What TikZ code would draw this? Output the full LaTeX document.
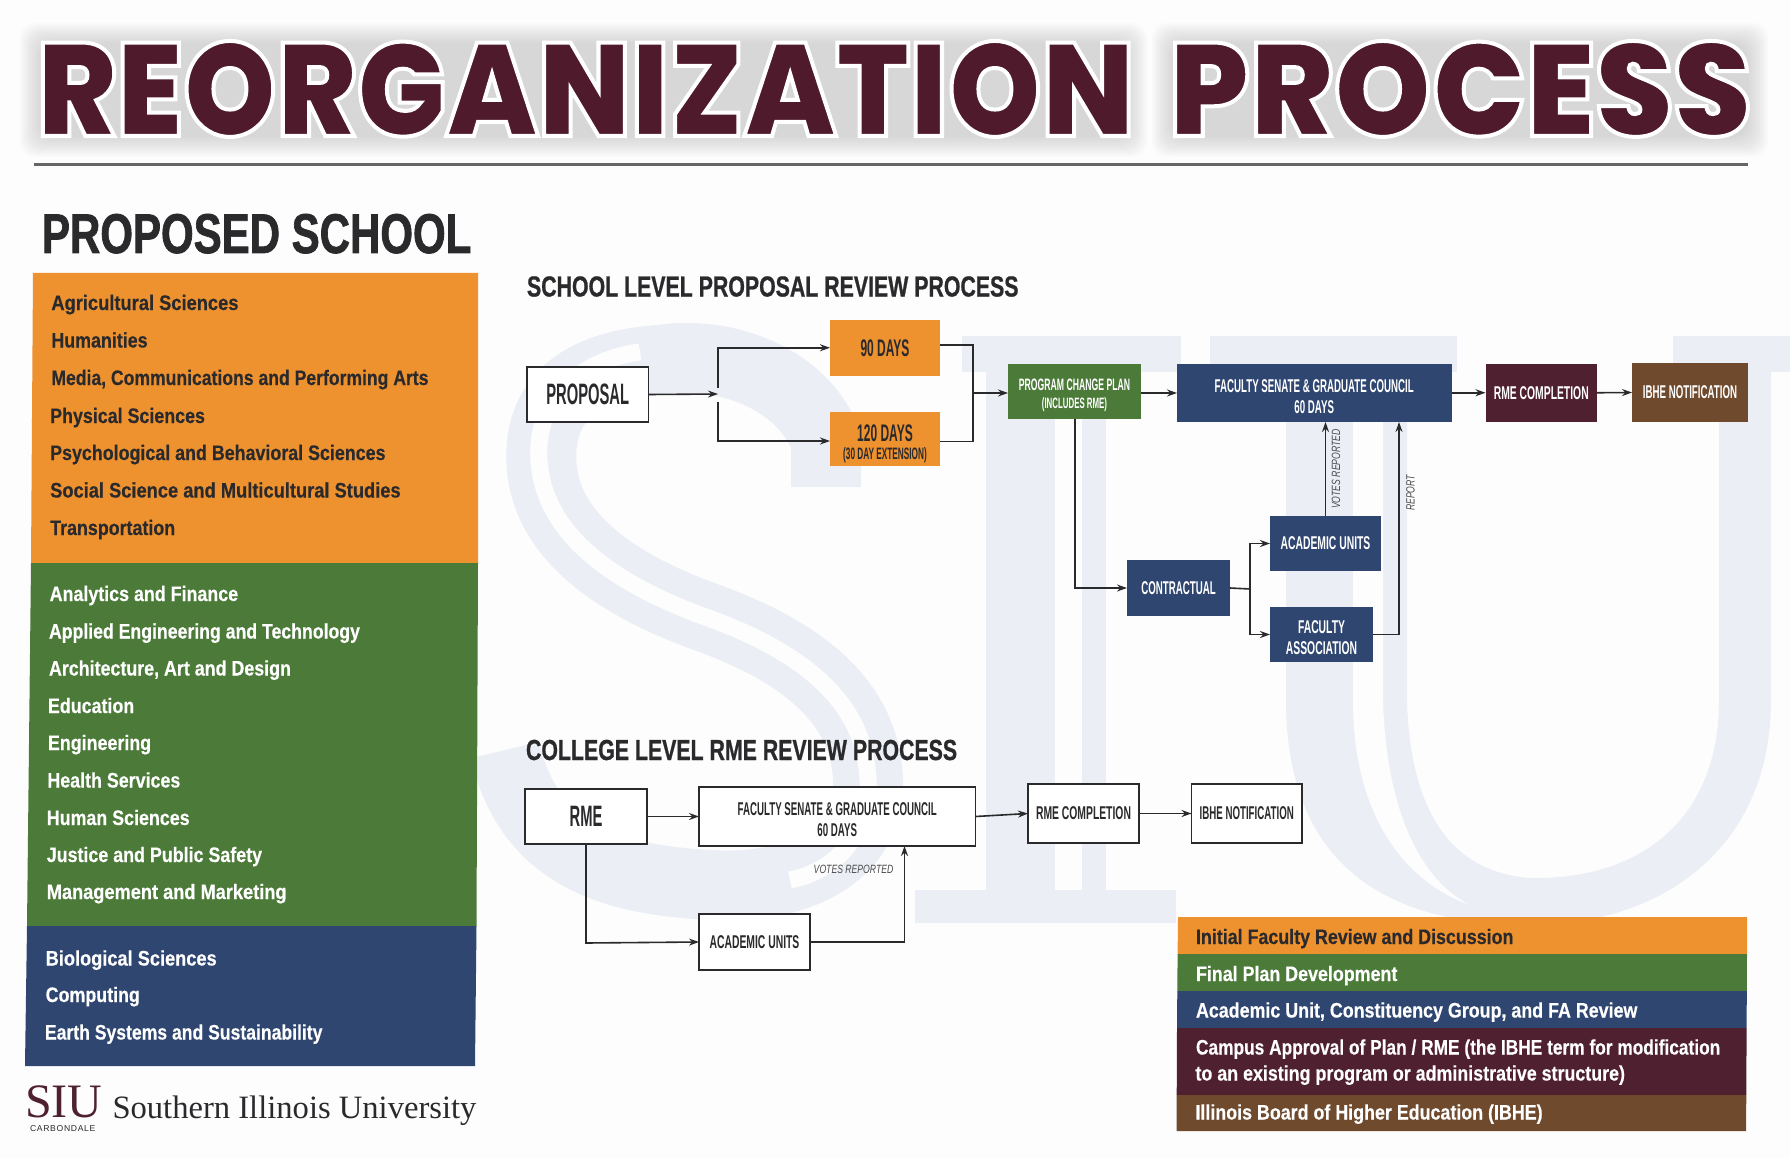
\documentclass[tikz,border=0pt]{standalone}
\usepackage{fontspec}
\usetikzlibrary{arrows.meta,calc}
\setmainfont{Liberation Sans}
\newfontfamily\fnb[FakeStretch=.5]{Liberation Sans}[UprightFont=* Bold]
\newfontfamily\fnr[FakeStretch=.56]{Liberation Sans}[UprightFont=* Bold]
\newfontfamily\fnx[FakeStretch=.525]{Liberation Sans}[UprightFont=* Bold]
\newfontfamily\flist[FakeStretch=.85,FakeBold=.35]{Liberation Sans}[UprightFont=* Bold]
\newfontfamily\fhead[FakeStretch=.735,FakeBold=.7]{Liberation Sans}[UprightFont=* Bold]
\newfontfamily\fbig[FakeStretch=.75,FakeBold=1.2]{Liberation Sans}[UprightFont=* Bold]
\newfontfamily\fnote[FakeStretch=.72]{Liberation Sans}[UprightFont=* Italic]
\newfontfamily\fcarb[LetterSpace=8]{Liberation Sans}
\newfontfamily\fser{Liberation Serif}
\newfontfamily\ftitlea[FakeStretch=.902]{Poppins}[UprightFont=* Black]
\newfontfamily\ftitleb[FakeStretch=.946]{Poppins}[UprightFont=* Black]
\definecolor{cor}{HTML}{EE912F}
\definecolor{cgr}{HTML}{4C7B39}
\definecolor{cbl}{HTML}{2F4670}
\definecolor{cma}{HTML}{4F2030}
\definecolor{cbr}{HTML}{6F4A2D}
\definecolor{ctt}{HTML}{4E1A2C}
\definecolor{cink}{HTML}{2A2A2C}
\definecolor{cwm}{HTML}{EBEFF5}
\definecolor{cbg}{HTML}{FDFDFE}
\tikzset{
 every node/.style={inner sep=0pt,outer sep=0pt},
 ln/.style={draw=cink,line width=1.6pt},
 ar/.style={ln,-{Stealth[length=10pt,width=7pt]}},
 wb/.style={draw=cink,line width=1.6pt,fill=white,text=cink,align=center},
 orb/.style={fill=cor,text=cink,align=center},
 grb/.style={fill=cgr,text=white,align=center},
 blb/.style={fill=cbl,text=white,align=center},
 mab/.style={fill=cma,text=white,align=center},
 brb/.style={fill=cbr,text=white,align=center},
 lsd/.style={anchor=base west,text=cink,font=\flist\fontsize{21}{24}\selectfont},
 lsw/.style={anchor=base west,text=white,font=\flist\fontsize{21}{24}\selectfont},
 note/.style={text=cink!85,font=\fnote\fontsize{12}{14}\selectfont},
 wmk/.style={draw=cwm,line width=70pt,line cap=butt},
 wmi/.style={draw=cbg,line width=17pt,line cap=butt},
}
% \bx{name}{x1}{y1}{x2}{y2}{style}{text}
\newcommand\bx[7]{%
 \pgfmathsetmacro\bxw{#4-#2}\pgfmathsetmacro\bxh{#5-#3}%
 \pgfmathsetmacro\bxx{(#2+#4)/2}\pgfmathsetmacro\bxy{(#3+#5)/2}%
 \node[#6,minimum width=\bxw pt,minimum height=\bxh pt] (#1) at (\bxx,\bxy) {#7};}
\newcommand\sz[2]{\fontsize{#1}{#2}\selectfont}
\begin{document}
\begin{tikzpicture}[x=1pt,y=-1pt]
\useasboundingbox (0,0) rectangle (1790,1158);
\fill[cbg] (0,0) rectangle (1790,1158);
% watermark
\draw[wmk] (826,487) -- (826,440) .. controls (800,375) and (720,350) .. (660,360) .. controls (580,365) and (535,400) .. (542,470) .. controls (550,540) and (620,585) .. (700,615) .. controls (800,650) and (865,700) .. (868,780) .. controls (870,860) and (790,890) .. (710,885) .. controls (620,880) and (530,860) .. (505,750);
\draw[wmi] (640,352) .. controls (580,360) and (530,400) .. (540,470) .. controls (550,540) and (620,585) .. (700,615) .. controls (800,650) and (865,700) .. (868,780) .. controls (870,830) and (840,870) .. (790,880);
\fill[cwm] (962,336) rectangle (1181,372);
\fill[cwm] (986,336) rectangle (1106,923);
\fill[cwm] (915,890) -- (1176,890) -- (1176,923) -- (915,923) -- cycle;
\fill[cbg] (1055,372) rectangle (1082,890);
\fill[cwm] (1210,336) rectangle (1457,372);
\fill[cwm] (1673,336) rectangle (1790,372);
\fill[cwm] (1286,336) -- (1407,336) -- (1407,700) .. controls (1410,810) and (1450,872) .. (1530,878) .. controls (1640,880) and (1719,820) .. (1719,700) -- (1719,336) -- (1771,336) -- (1771,700) .. controls (1771,850) and (1660,925) .. (1530,925) .. controls (1380,925) and (1286,860) .. (1286,700) -- cycle;
\fill[cbg] (1353,372) -- (1383,372) -- (1383,700) .. controls (1386,810) and (1420,880) .. (1470,905) .. controls (1400,880) and (1353,810) .. (1353,700) -- cycle;
% title glow
\foreach \xa/\xb in {40/1127,1172/1748}{
 \foreach \d in {0,2,...,20}{
  \fill[black!45,opacity=.03,rounded corners=16pt] (\xa-\d,43-\d) rectangle (\xb+\d,137+\d);
 }
}
% title
\node[anchor=base west,text=ctt] (title) at (37,136) {\sz{132}{134}\special{pdf:code 2 Tr 4 w 1 1 1 RG}\ftitlea REORGANIZATION\hspace{14pt} \ftitleb PROCESS\special{pdf:code 0 Tr}};
\draw[draw=black!60,line width=3pt] (34,165) -- (1748,165);
\node[anchor=base west,text=cink] (propschool) at (42,253) {\fbig\sz{56}{60}PROPOSED SCHOOL};
% left panel
\fill[cor] (33,273) -- (478,273) -- (478,563) -- (31,563) -- cycle;
\fill[cgr] (31,563) -- (478,563) -- (476.5,926) -- (27,926) -- cycle;
\fill[cbl] (27,926) -- (476.5,926) -- (475,1066) -- (25,1066) -- cycle;
\node[lsd,xscale=1.025] (o1) at (51.4,310) {Agricultural Sciences};
\node[lsd] (o2) at (51.4,347.5) {Humanities};
\node[lsd,xscale=.985] (o3) at (51.4,385) {Media, Communications and Performing Arts};
\node[lsd] (o4) at (50.2,423) {Physical Sciences};
\node[lsd] (o5) at (50.2,460) {Psychological and Behavioral Sciences};
\node[lsd,xscale=1.024] (o6) at (50.2,497.5) {Social Science and Multicultural Studies};
\node[lsd] (o7) at (50.2,535) {Transportation};
\node[lsw] (g1) at (49.7,601) {Analytics and Finance};
\node[lsw,xscale=.99] (g2) at (49,638.5) {Applied Engineering and Technology};
\node[lsw] (g3) at (49,675.5) {Architecture, Art and Design};
\node[lsw] (g4) at (48,713) {Education};
\node[lsw] (g5) at (48,750) {Engineering};
\node[lsw] (g6) at (47.4,787.5) {Health Services};
\node[lsw] (g7) at (46.8,825) {Human Sciences};
\node[lsw] (g8) at (46.8,862) {Justice and Public Safety};
\node[lsw,xscale=1.02] (g9) at (46.8,899) {Management and Marketing};
\node[lsw,xscale=1.02] (b1) at (45.7,965.5) {Biological Sciences};
\node[lsw] (b2) at (45.7,1002) {Computing};
\node[lsw,xscale=.985] (b3) at (45,1039.5) {Earth Systems and Sustainability};
% logo
\node[anchor=base west,text=cma] (siu) at (25,1117) {\fser\sz{48}{50}SIU};
\node[anchor=base west,text=cink] (carb) at (30,1131) {\fcarb\sz{8.6}{10}CARBONDALE};
\node[anchor=base west,text=cink] (suni) at (112.5,1118) {\fser\sz{32.6}{34}Southern Illinois University};
% school level
\node[anchor=base west,text=cink] (h1) at (527,296.5) {\fhead\sz{29}{30}SCHOOL LEVEL PROPOSAL REVIEW PROCESS};
\bx{prop}{527}{367}{648.5}{422}{wb}{\fnb\sz{29.5}{30}PROPOSAL}
\bx{d90}{830}{320}{940}{375.5}{orb}{\fnb\sz{24}{26}90 DAYS}
\bx{d120}{830}{412}{940}{466}{orb}{\rule{0pt}{26pt}\fnb\sz{24}{20}120 DAYS\\[5pt]\fnb\sz{16.5}{20}(30 DAY EXTENSION)}
\bx{pcp}{1008}{364}{1141}{419}{grb}{\rule{0pt}{20pt}\fnx\sz{16.5}{19}PROGRAM CHANGE PLAN\\[6pt]\fnx\sz{15}{19}(INCLUDES RME)}
\bx{fs}{1177}{364}{1451.5}{422}{blb}{\rule{0pt}{21pt}\fnx\sz{18.5}{21}FACULTY SENATE \& GRADUATE COUNCIL\\[7pt]\fnx\sz{18.5}{21}60 DAYS}
\bx{rc}{1485.5}{363.5}{1597}{422}{mab}{\fnr\sz{18.5}{21}RME COMPLETION}
\bx{ib}{1632}{363}{1748}{422}{brb}{\fnx\sz{18.5}{21}IBHE NOTIFICATION}
\bx{con}{1127}{560}{1230}{616}{blb}{\fnx\sz{18.5}{21}CONTRACTUAL}
\bx{au}{1270}{516}{1381}{571}{blb}{\fnr\sz{18.5}{21}ACADEMIC UNITS}
\bx{fa}{1270}{607}{1373}{662}{blb}{\rule{0pt}{19pt}\fnr\sz{18.5}{21.5}FACULTY\\[7.5pt]\fnr\sz{18.5}{21.5}ASSOCIATION}
\coordinate (j1) at (718,394);
\coordinate (j1a) at (718,388);
\coordinate (j1b) at (718,402);
\coordinate (j2) at (973,393);
\coordinate (j3) at (1250,589);
\coordinate (j4) at (1075,588);
\coordinate (j5) at (1399,422);
\draw[ar] (prop.east) -- (j1);
\draw[ar] (j1a) |- (d90.west);
\draw[ar] (j1b) |- ([yshift=-2pt]d120.west);
\draw[ln] ([yshift=3pt]d90.east) -| (j2);
\draw[ln] ([yshift=-2.5pt]d120.east) -| (j2);
\draw[ar] (j2) -- (j2 -| pcp.west);
\draw[ar] (pcp.east |- fs.west) -- (fs.west);
\draw[ar] (fs.east |- rc.west) -- (rc.west);
\draw[ar] (rc.east) -- (ib.west);
\draw[ar] (j4 |- pcp.south) -- (j4) -- (con.west);
\draw[ln] (con.east) -- (j3);
\draw[ar] (j3) |- (au.west);
\draw[ar] (j3) |- (fa.west);
\draw[ar] (au.north) -- (au.north |- fs.south);
\draw[ar] (fa.east) -| (j5);
\node[note,rotate=90] (vr1) at (1336,469) {VOTES REPORTED};
\node[note,rotate=90] (rp1) at (1410.5,493) {REPORT};
% college level
\node[anchor=base west,text=cink] (h2) at (526,760) {\fhead\sz{29}{30}COLLEGE LEVEL RME REVIEW PROCESS};
\bx{rme}{525}{789}{647}{844}{wb}{\fnb\sz{29.5}{30}RME}
\bx{fs2}{699}{787}{975.5}{846}{wb}{\rule{0pt}{19pt}\fnx\sz{18.5}{21}FACULTY SENATE \& GRADUATE COUNCIL\\[7pt]\fnx\sz{18.5}{21}60 DAYS}
\bx{rc2}{1028}{784}{1139}{843}{wb}{\fnr\sz{18.5}{21}RME COMPLETION}
\bx{ib2}{1191.5}{784}{1302}{843}{wb}{\fnx\sz{18.5}{21}IBHE NOTIFICATION}
\bx{au2}{699}{914}{810}{970}{wb}{\fnr\sz{18.5}{21}ACADEMIC UNITS}
\coordinate (k1) at (586,943);
\coordinate (k2) at (904.5,846);
\draw[ar] (rme.east) -- (fs2.west |- rme.east);
\draw[ar] (fs2.east) -- (rc2.west);
\draw[ar] (rc2.east) -- (ib2.west);
\draw[ar] (k1 |- rme.south) -- (k1) -- (au2.west);
\draw[ar] (au2.east) -| (k2);
\node[note] (vr2) at (853.5,869) {VOTES REPORTED};
% legend
\fill[cor] (1178,917) -- (1747,917) -- (1747,954) -- (1177.6,954) -- cycle;
\fill[cgr] (1177.6,954) -- (1747,954) -- (1746.8,991) -- (1177.3,991) -- cycle;
\fill[cbl] (1177.3,991) -- (1746.8,991) -- (1746.6,1028) -- (1177,1028) -- cycle;
\fill[cma] (1177,1028) -- (1746.6,1028) -- (1746.3,1095) -- (1176.7,1095) -- cycle;
\fill[cbr] (1176.7,1095) -- (1746.3,1095) -- (1746,1131) -- (1176.5,1131) -- cycle;
\node[lsd] (l1) at (1196,944) {Initial Faculty Review and Discussion};
\node[lsw] (l2) at (1196,981) {Final Plan Development};
\node[lsw] (l3) at (1196,1017.5) {Academic Unit, Constituency Group, and FA Review};
\node[lsw,xscale=.97] (l4) at (1196,1054.5) {Campus Approval of Plan / RME (the IBHE term for modification};
\node[lsw] (l5) at (1195.5,1080.5) {to an existing program or administrative structure)};
\node[lsw] (l6) at (1195.5,1119.5) {Illinois Board of Higher Education (IBHE)};
\end{tikzpicture}
\end{document}
